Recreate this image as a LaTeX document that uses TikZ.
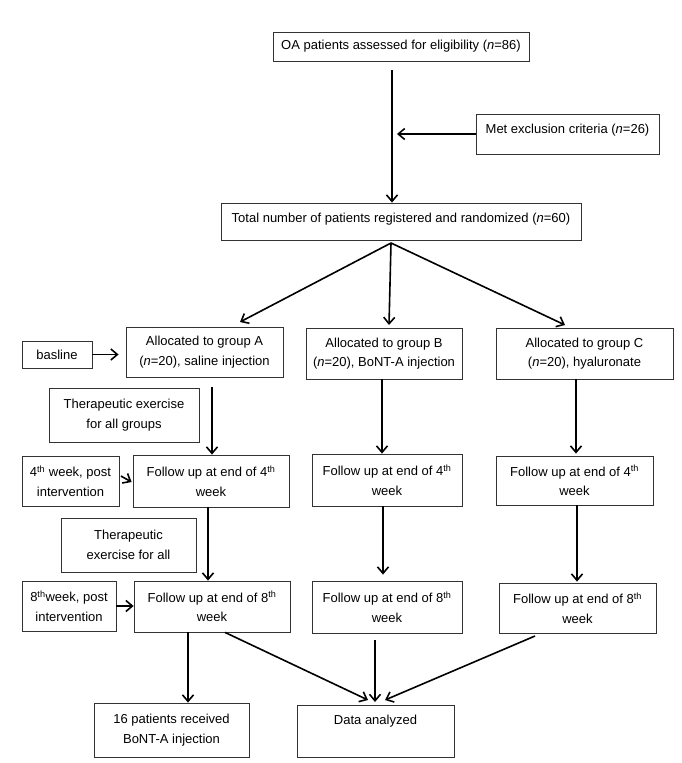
\documentclass[tikz,border=0pt]{standalone}
\usepackage{fontspec}
\setmainfont{Liberation Sans}
\usetikzlibrary{arrows.meta,calc}
\newcommand{\fsz}{\fontsize{13}{19.5}\selectfont}
\newcommand{\sth}{\textsuperscript{th}}
\begin{document}
\begin{tikzpicture}[x=1pt,y=-1pt,
  box/.style={draw=black!80, line width=0.8pt, align=center, inner sep=0pt, font=\fsz},
  arr/.style={line width=1.6pt, -{Straight Barb[length=6.5pt,width=11pt]}},
  ln/.style={line width=1.6pt}]
\useasboundingbox (0,0) rectangle (682,763);
\fill[white] (0,0) rectangle (682,763);
% nodes
\node[box, minimum width=256pt, minimum height=29pt] (OA) at (401,46.5) {OA patients assessed for eligibility (\textit{n}=86)};
\node[box, minimum width=183pt, text height=19.4pt, text depth=20.6pt] (Met) at (567.5,134) {Met exclusion criteria (\textit{n}=26)};
\node[box, minimum width=360pt, text height=19.4pt, text depth=17.6pt] (Tot) at (401,221.5) {Total number of patients registered and randomized (\textit{n}=60)};
\node[box, minimum width=157pt, minimum height=50pt] (A) at (204.5,352) {Allocated to group A\\(\textit{n}=20), saline injection};
\node[box, minimum width=156pt, minimum height=51pt] (B) at (384,353.5) {Allocated to group B\\(\textit{n}=20), BoNT-A injection};
\node[box, minimum width=177pt, minimum height=51pt] (C) at (584.5,353.5) {Allocated to group C\\(\textit{n}=20), hyaluronate};
\node[box, minimum width=70pt, minimum height=27pt] (base) at (57,354.5) {basline};
\node[box, minimum width=150pt, minimum height=54pt] (T1) at (124,415) {Therapeutic exercise\\for all groups};
\node[box, minimum width=97pt, minimum height=50pt] (W4) at (70.5,481) {4\sth{} week, post\\intervention};
\node[box, minimum width=156pt, minimum height=52pt] (F4A) at (211,481) {Follow up at end of 4\sth\\week};
\node[box, minimum width=150pt, minimum height=52pt] (F4B) at (387,480) {Follow up at end of 4\sth\\week};
\node[box, minimum width=157pt, minimum height=49pt] (F4C) at (574.5,480.5) {Follow up at end of 4\sth\\week};
\node[box, minimum width=135pt, minimum height=54pt] (T2) at (128.5,545) {Therapeutic\\exercise for all};
\node[box, minimum width=94pt, minimum height=50pt] (W8) at (69,606) {8\sth week, post\\intervention};
\node[box, minimum width=156pt, minimum height=51pt] (F8A) at (212,606.5) {Follow up at end of 8\sth\\week};
\node[box, minimum width=150pt, minimum height=52pt] (F8B) at (387,607) {Follow up at end of 8\sth\\week};
\node[box, minimum width=157pt, minimum height=50pt] (F8C) at (577.5,608) {Follow up at end of 8\sth\\week};
\node[box, minimum width=155pt, minimum height=54pt] (P16) at (171.5,730) {16 patients received\\BoNT-A injection};
\node[box, minimum width=157pt, text height=19.4pt, text depth=32.6pt] (Data) at (375.5,731) {Data analyzed};
% coordinates
\coordinate (oaout) at (392,70);
\coordinate (metin) at (397,134);
\coordinate (split) at (391,243);
\coordinate (Atip) at (240,322);
\coordinate (Btip) at (389,325);
\coordinate (Ctip) at (565,325);
\coordinate (aout) at (212,387);
\coordinate (f8bout) at (375,640);
\coordinate (f8cout) at (535,636);
\coordinate (dL) at (368,700);
\coordinate (dM) at (375,702);
\coordinate (dR) at (385,700);
% connectors
\draw[arr] (oaout) -- (oaout |- Tot.north);
\draw[arr] (Met.west) -- (metin);
\draw[arr] (split) -- (Atip);
\draw[arr] (split) -- (Btip);
\draw[arr] (split) -- (Ctip);
\draw[arr, shorten >=7pt] (base.east) -- (base.east -| A.west);
\draw[arr] (aout) -- (aout |- F4A.north);
\draw[arr] ($(W4.east)+(1.5,-5)$) -- ($(F4A.west)+(-1,1)$);
\draw[arr] ($(F4A.south)+(-3,0)$) -- ($(F8A.north)+(-4,0)$);
\draw[arr] (W8.east) -- (W8.east -| F8A.west);
\draw[arr] ($(F8A.south)+(-24,0)$) -- ($(P16.north)+(16.5,0)$);
\draw[arr] ($(F8A.south)+(13,0)$) -- (dL);
\draw[arr] (f8bout) -- (dM);
\draw[arr] (f8cout) -- (dR);
\draw[arr] ($(B.south)+(-2,0)$) -- ($(F4B.north)+(-5,0)$);
\draw[arr] ($(F4B.south)+(-4,0)$) -- ($(F8B.north)+(-4,-6)$);
\draw[arr] ($(C.south)+(-8.5,0)$) -- ($(F4C.north)+(1.5,-2)$);
\draw[arr] ($(F4C.south)+(2.5,0)$) -- ($(F8C.north)+(-0.5,-1)$);
\end{tikzpicture}
\end{document}
